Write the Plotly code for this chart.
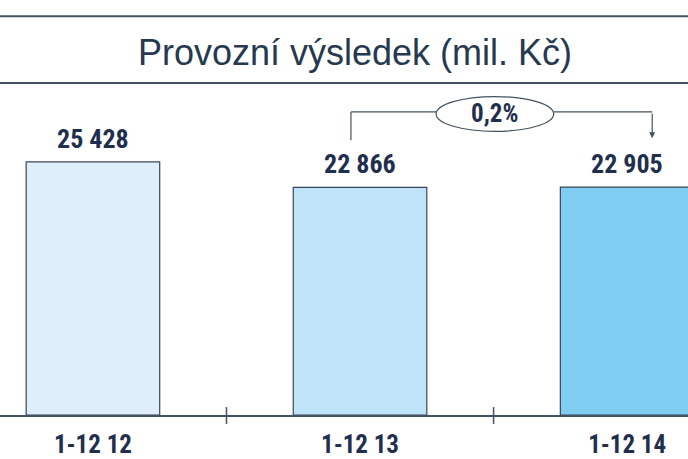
import plotly.graph_objects as go

# data
categories = ['1-12 12', '1-12 13', '1-12 14']
values = [25428, 22866, 22905]
value_labels = ['25 428', '22 866', '22 905']
bar_colors = ['#deeefb', '#bfe3f8', '#7fcdf0']
change_label = '0,2%'

navy = '#1f2f4d'
line_col = '#44535f'
label_font = 'Roboto Condensed, DejaVu Sans Condensed, sans-serif'

x_pos = list(range(len(categories)))

fig = go.Figure()

fig.add_trace(go.Bar(
    x=x_pos,
    y=values,
    width=0.5,
    marker=dict(color=bar_colors, line=dict(color='#3a4656', width=1.2)),
    hoverinfo='skip',
))

# value labels above bars
for xi, v, lab in zip(x_pos, values, value_labels):
    fig.add_annotation(x=xi, y=v, text='<b>' + lab + '</b>', showarrow=False,
                       yanchor='bottom', yshift=6,
                       font=dict(family=label_font, size=26, color=navy))

# ticks between categories, crossing the axis line
for i in range(len(categories) - 1):
    fig.add_shape(type='line', xref='x', yref='paper', x0=i + 0.5, x1=i + 0.5,
                  y0=-0.027, y1=0.024, line=dict(color=line_col, width=1.5))

# change bracket from 2nd to 3rd bar
ytop = 30450
fig.add_shape(type='line', x0=0.966, x1=0.966, y0=27600, y1=ytop,
              line=dict(color=line_col, width=1.2))
fig.add_shape(type='line', x0=0.966, x1=1.285, y0=ytop, y1=ytop,
              line=dict(color=line_col, width=1.2))
fig.add_shape(type='line', x0=1.725, x1=2.094, y0=ytop, y1=ytop,
              line=dict(color=line_col, width=1.2))
fig.add_shape(type='circle', x0=1.285, x1=1.725, y0=28500, y1=32000,
              line=dict(color=line_col, width=1.2), fillcolor='white')
fig.add_annotation(x=2.094, y=27800, ax=2.094, ay=ytop, axref='x', ayref='y',
                   showarrow=True, arrowhead=2, arrowsize=1, arrowwidth=1.2,
                   arrowcolor=line_col, text='')
fig.add_annotation(x=1.505, y=30300, text='<b>' + change_label + '</b>', showarrow=False,
                   font=dict(family=label_font, size=25, color=navy))

# title band lines
for yy in [1.205, 1.003]:
    fig.add_shape(type='line', xref='paper', yref='paper', x0=0, x1=1, y0=yy, y1=yy,
                  line=dict(color=line_col, width=2))

fig.update_layout(
    width=688, height=459,
    margin=dict(l=0, r=0, t=84, b=44),
    paper_bgcolor='white', plot_bgcolor='white',
    showlegend=False,
    title=dict(text='Provozní výsledek (mil. Kč)', x=0.516, xanchor='center',
               y=1 - 52 / 459, yanchor='middle',
               font=dict(family='Liberation Sans, Arial, sans-serif', size=36, color='#26394f')),
    xaxis=dict(range=[-0.348, 2.228], tickmode='array', tickvals=x_pos,
               ticktext=['<b>' + c + '</b>' for c in categories],
               showgrid=False, zeroline=False, showline=True, linecolor=line_col,
               linewidth=1.5, ticks='', ticklabelstandoff=6,
               tickfont=dict(family=label_font, size=25, color=navy)),
    yaxis=dict(range=[0, 33260], visible=False, showgrid=False, zeroline=False),
)

fig.write_html('out.html', config={'displayModeBar': False},
               post_script="document.body.style.margin='0';")
